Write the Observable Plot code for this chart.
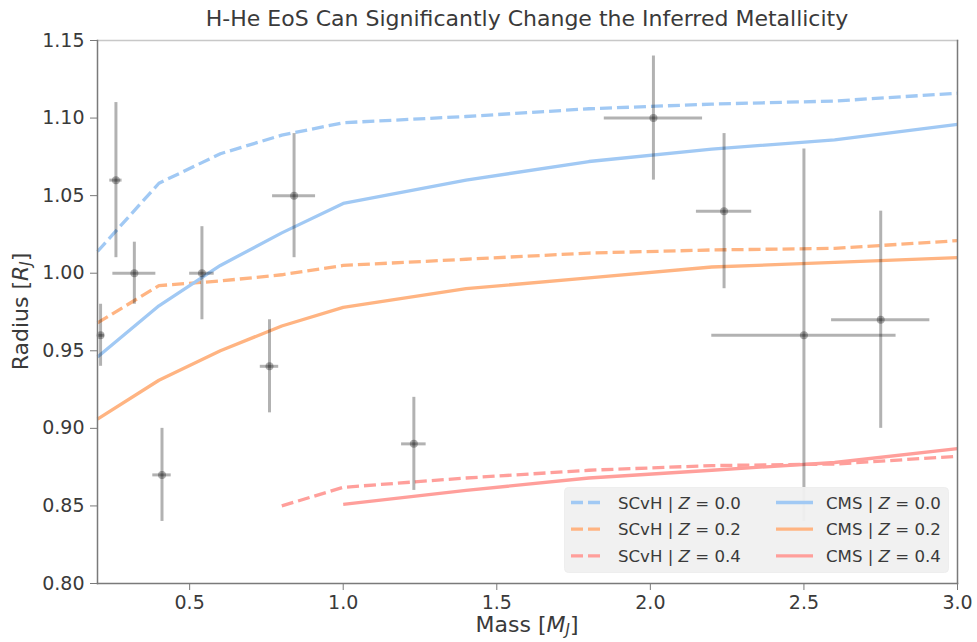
<!DOCTYPE html>
<html>
<head>
<meta charset="utf-8">
<script src="https://cdn.jsdelivr.net/npm/d3@7"></script>
<script src="https://cdn.jsdelivr.net/npm/@observablehq/plot@0.6"></script>
<style>
  html, body { margin: 0; padding: 0; background: #fff; }
  #chart { width: 977px; height: 642px; }
</style>
</head>
<body>
<div id="chart"></div>
<script>
// ---- Model grids (mass in M_J) ----
const massGrid = [0.2, 0.4, 0.6, 0.8, 1.0, 1.4, 1.8, 2.2, 2.6, 3.0];
const massGridZ04scvh = [0.8, 1.0, 1.4, 1.8, 2.2, 2.6, 3.0];
const massGridZ04cms = [1.0, 1.4, 1.8, 2.2, 2.6, 3.0];

// ---- Radius curves (R_J) ----
const scvhZ00 = [1.014, 1.058, 1.077, 1.089, 1.097, 1.101, 1.106, 1.109, 1.111, 1.116];
const cmsZ00  = [0.946, 0.979, 1.005, 1.026, 1.045, 1.060, 1.072, 1.080, 1.086, 1.096];
const scvhZ02 = [0.968, 0.992, 0.995, 0.999, 1.005, 1.009, 1.013, 1.015, 1.016, 1.021];
const cmsZ02  = [0.906, 0.931, 0.950, 0.966, 0.978, 0.990, 0.997, 1.004, 1.007, 1.010];
const scvhZ04 = [0.850, 0.862, 0.868, 0.873, 0.876, 0.877, 0.882];
const cmsZ04  = [0.851, 0.860, 0.868, 0.873, 0.878, 0.887];

// ---- Observed planets ----
const obsMass    = [0.21, 0.26, 0.32, 0.41, 0.54, 0.76, 0.84, 1.23, 2.01, 2.24, 2.50, 2.75];
const obsMassErr = [0.013, 0.02, 0.07, 0.03, 0.04, 0.03, 0.07, 0.04, 0.16, 0.09, 0.30, 0.16];
const obsRad     = [0.96, 1.06, 1.00, 0.87, 1.00, 0.94, 1.05, 0.89, 1.10, 1.04, 0.96, 0.97];
const obsRadErr  = [0.02, 0.05, 0.02, 0.03, 0.03, 0.03, 0.04, 0.03, 0.04, 0.05, 0.12, 0.07];

// ---- Ticks & labels ----
const xTicks = [0.5, 1.0, 1.5, 2.0, 2.5, 3.0];
const yTicks = [0.80, 0.85, 0.90, 0.95, 1.00, 1.05, 1.10, 1.15];
const titleText = "H-He EoS Can Significantly Change the Inferred Metallicity";

const colors = {"0.0": "#a1c9f4", "0.2": "#ffb482", "0.4": "#ff9f9b"};
const series = [
  {eos: "SCvH", z: "0.0", m: massGrid, r: scvhZ00},
  {eos: "SCvH", z: "0.2", m: massGrid, r: scvhZ02},
  {eos: "SCvH", z: "0.4", m: massGridZ04scvh, r: scvhZ04},
  {eos: "CMS",  z: "0.0", m: massGrid, r: cmsZ00},
  {eos: "CMS",  z: "0.2", m: massGrid, r: cmsZ02},
  {eos: "CMS",  z: "0.4", m: massGridZ04cms, r: cmsZ04}
];
const DASH = "12,5";
const LW = 3.3;

const lineMarks = series.map(s => Plot.line(
  s.m.map((m, i) => ({mass: m, radius: s.r[i]})),
  {x: "mass", y: "radius", stroke: colors[s.z], strokeWidth: LW,
   strokeDasharray: s.eos === "SCvH" ? DASH : null, strokeLinecap: "butt"}
));

const obs = obsMass.map((m, i) => ({mass: m, mErr: obsMassErr[i], radius: obsRad[i], rErr: obsRadErr[i]}));

const spine = "#7a7a7a";
const chart = Plot.plot({
  width: 977,
  height: 642,
  marginTop: 40,
  marginRight: 20,
  marginBottom: 59,
  marginLeft: 97,
  style: {fontFamily: "'DejaVu Sans', sans-serif", fontSize: "19px", color: "#3a3a3a", background: "#fff"},
  x: {domain: [0.2, 3.0], label: null},
  y: {domain: [0.80, 1.15], label: null},
  marks: [
    ...lineMarks,
    Plot.ruleX(obs, {x: "mass", y1: d => d.radius - d.rErr, y2: d => d.radius + d.rErr,
      stroke: "black", strokeOpacity: 0.3, strokeWidth: 3, clip: true}),
    Plot.ruleY(obs, {y: "radius", x1: d => Math.max(0.2, d.mass - d.mErr), x2: d => d.mass + d.mErr,
      stroke: "black", strokeOpacity: 0.3, strokeWidth: 3, clip: true}),
    Plot.dot(obs, {x: "mass", y: "radius", r: 4, fill: "black", fillOpacity: 0.3, stroke: null}),
    Plot.frame({anchor: "top", stroke: "#c8c8c8", strokeWidth: 1.5}),
    Plot.frame({anchor: "right", stroke: spine, strokeWidth: 1.5}),
    Plot.frame({anchor: "left", stroke: spine, strokeWidth: 1.5}),
    Plot.frame({anchor: "bottom", stroke: spine, strokeWidth: 1.5}),
    Plot.axisX({ticks: xTicks, tickFormat: d3.format(".1f"), tickSize: 7, tickPadding: 5,
      stroke: spine, fill: "#3a3a3a", label: null}),
    Plot.axisY({ticks: yTicks, tickFormat: d3.format(".2f"), tickSize: 7, tickPadding: 6,
      stroke: spine, fill: "#3a3a3a", label: null})
  ]
});

document.getElementById("chart").appendChild(chart);

// ---- Title, axis labels and legend as real SVG text ----
const svg = d3.select(chart);
const fam = "'DejaVu Sans', sans-serif";
const txtColor = "#3a3a3a";

svg.append("text")
  .attr("x", (97 + 957) / 2).attr("y", 26)
  .attr("text-anchor", "middle")
  .attr("font-family", fam).attr("font-size", 22).attr("fill", txtColor)
  .text(titleText);

const xl = svg.append("text")
  .attr("x", (97 + 957) / 2).attr("y", 632)
  .attr("text-anchor", "middle")
  .attr("font-family", fam).attr("font-size", 22).attr("fill", txtColor);
xl.append("tspan").text("Mass [");
xl.append("tspan").attr("font-style", "italic").text("M");
xl.append("tspan").attr("font-style", "italic").attr("font-size", 15).attr("dy", 3).text("J");
xl.append("tspan").attr("dy", -3).text("]");

const yl = svg.append("text")
  .attr("transform", `translate(28, ${(40 + 583) / 2}) rotate(-90)`)
  .attr("text-anchor", "middle")
  .attr("font-family", fam).attr("font-size", 22).attr("fill", txtColor);
yl.append("tspan").text("Radius [");
yl.append("tspan").attr("font-style", "italic").text("R");
yl.append("tspan").attr("font-style", "italic").attr("font-size", 15).attr("dy", 3).text("J");
yl.append("tspan").attr("dy", -3).text("]");

// Legend
const lg = svg.append("g").attr("text-anchor", "start");
lg.append("rect")
  .attr("x", 564.5).attr("y", 487.5).attr("width", 384).attr("height", 85)
  .attr("rx", 4).attr("fill", "#f0f0f0").attr("fill-opacity", 0.95)
  .attr("stroke", "#eeeeee");
const cols = [{eos: "SCvH", lx: 571, tx: 618}, {eos: "CMS", lx: 776, tx: 826}];
const zs = ["0.0", "0.2", "0.4"];
cols.forEach((c, ci) => {
  zs.forEach((z, ri) => {
    const yy = 502.5 + ri * 26.7;
    const ln = lg.append("line")
      .attr("x1", c.lx).attr("x2", c.lx + (ci === 0 ? 31 : 37))
      .attr("y1", yy).attr("y2", yy)
      .attr("stroke", colors[z]).attr("stroke-width", LW);
    if (c.eos === "SCvH") ln.attr("stroke-dasharray", DASH);
    const t = lg.append("text")
      .attr("x", c.tx).attr("y", yy + 6)
      .attr("text-anchor", "start")
      .attr("font-family", fam).attr("font-size", 16.6).attr("fill", txtColor);
    t.append("tspan").text(c.eos + " | ");
    t.append("tspan").attr("font-style", "italic").text("Z");
    t.append("tspan").text(" = " + z);
  });
});
</script>
</body>
</html>
